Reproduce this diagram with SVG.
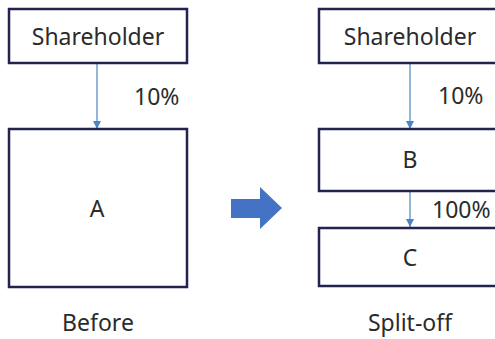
<svg xmlns="http://www.w3.org/2000/svg" width="495" height="339" viewBox="0 0 495 339">
<defs>
<style>
.box{fill:#fff;stroke:#23234f;stroke-width:2.5}
.t{font-family:"Noto Sans","Open Sans","Liberation Sans",sans-serif;font-size:23px;fill:#2b2b2b}
.c{stroke:#4a86c5;stroke-width:1.2;fill:none}
</style>
<marker id="ah" markerWidth="8" markerHeight="8" viewBox="0 0 8 8" refX="8" refY="4" orient="auto" markerUnits="userSpaceOnUse">
<path d="M0,0 L8,4 L0,8 z" fill="#4a86c5"/>
</marker>
</defs>
<rect width="495" height="339" fill="#fff"/>
<g id="connectors">
<line class="c" x1="97" y1="63" x2="97" y2="129" marker-end="url(#ah)"/>
<line class="c" x1="410" y1="63" x2="410" y2="129" marker-end="url(#ah)"/>
<line class="c" x1="410" y1="191" x2="410" y2="227" marker-end="url(#ah)"/>
</g>
<g id="shareholder1">
<rect class="box" x="9" y="9" width="178" height="54"/>
<text class="t" x="98" y="45" text-anchor="middle">Shareholder</text>
</g>
<text class="t" x="134" y="105">10%</text>
<g id="A">
<rect class="box" x="9" y="129" width="178" height="158"/>
<text class="t" x="97" y="217" text-anchor="middle">A</text>
</g>
<text class="t" x="98" y="331" text-anchor="middle">Before</text>
<g id="bigarrow">
<path d="M231,199 L260,199 L260,187 L282,208 L260,229 L260,218 L231,218 z" fill="#4472c4"/>
</g>
<g id="shareholder2">
<rect class="box" x="319" y="9" width="185" height="54"/>
<text class="t" x="410" y="45" text-anchor="middle">Shareholder</text>
</g>
<text class="t" x="438" y="104">10%</text>
<g id="B">
<rect class="box" x="319" y="129" width="185" height="62"/>
<text class="t" x="410" y="168" text-anchor="middle">B</text>
</g>
<text class="t" x="432" y="218">100%</text>
<g id="C">
<rect class="box" x="319" y="228" width="185" height="58"/>
<text class="t" x="410" y="266" text-anchor="middle">C</text>
</g>
<text class="t" x="410" y="331" text-anchor="middle">Split-off</text>
</svg>
